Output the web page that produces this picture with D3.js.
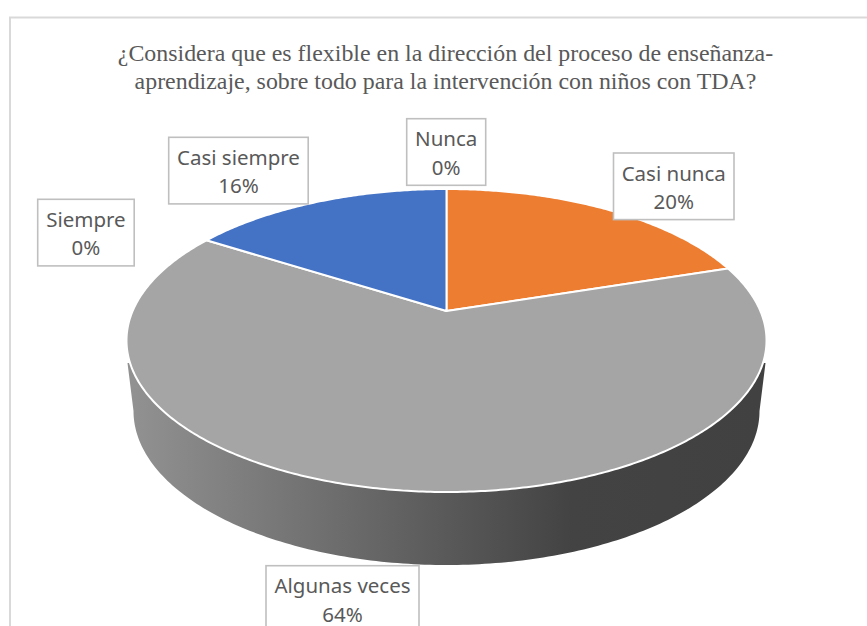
<!DOCTYPE html>
<html><head><meta charset="utf-8">
<script src="https://cdn.jsdelivr.net/npm/d3@7"></script>
<style>html,body{margin:0;padding:0;background:#fff;overflow:hidden}svg{display:block}</style>
</head><body>
<svg id="c" width="867" height="626"></svg>
<script>
const categories = ["Nunca","Casi nunca","Algunas veces","Casi siempre","Siempre"];
const values = [0,20,64,16,0];
const colors = ["#5B9BD5","#ED7D31","#A5A5A5","#4472C4","#FFC000"];
const titleLines = ["¿Considera que es flexible en la dirección del proceso de enseñanza-","aprendizaje, sobre todo para la intervención con niños con TDA?"];

// Layout, separate from the data
const W=867,H=626;
const top_={cx:446.5,cy:340.5,rx:320,ry:151.5,apexY:311};
const bottom_={cx:446.5,cy:411,rx:313,ry:154};
const wallStartY=363, wallStartDX=319;
const labelBoxes={
 "Nunca":[406.7,118.7,79,66.6],
 "Casi nunca":[613.5,153,120.5,66.6],
 "Algunas veces":[266,565.7,153,66.6],
 "Casi siempre":[168.7,137.3,139.5,66.6],
 "Siempre":[37.7,199.3,96.5,66.6]
};
const svg=d3.select("#c");
const fmt=d3.format(".0%");
const total=d3.sum(values);

// frame
svg.append("path").attr("d",`M10,${H}V17.5H${W}`).attr("fill","none").attr("stroke","#d9d9d9").attr("stroke-width",2);

// title
svg.append("g").selectAll("text").data(titleLines).join("text")
 .attr("x",445.5).attr("y",(d,i)=>61+i*27.5)
 .attr("text-anchor","middle")
 .attr("font-family","'Liberation Serif',serif").attr("font-size",23.9).attr("fill","#595959")
 .text(d=>d);

// perspective: circle (angle) -> tilted disc with off-centre apex
const dn=top_.cy+top_.ry-top_.apexY, up=top_.apexY-(top_.cy-top_.ry);
const k=(dn/up-1)/(dn/up+1);
const b=dn*(1-k);
const a=top_.rx*Math.sqrt(1-Math.pow((top_.apexY-top_.cy)/top_.ry,2));
const project=t=>{const u=Math.sin(t),v=-Math.cos(t),w=1-k*v;return [top_.cx+a*u/w,top_.apexY+b*v/w];};

// wall
const grad=svg.append("defs").append("linearGradient").attr("id","wall")
 .attr("gradientUnits","userSpaceOnUse").attr("x1",bottom_.cx-bottom_.rx).attr("x2",bottom_.cx+bottom_.rx).attr("y1",0).attr("y2",0);
grad.append("stop").attr("offset",0).attr("stop-color","#919191");
grad.append("stop").attr("offset",0.7).attr("stop-color","#434343");
grad.append("stop").attr("offset",1).attr("stop-color","#414141");
const line=d3.line();
const lower=d3.range(0,Math.PI+0.001,Math.PI/180).map(t=>[bottom_.cx-bottom_.rx*Math.cos(t),bottom_.cy+bottom_.ry*Math.sin(t)]);
const wallPts=[[top_.cx-wallStartDX,wallStartY],...lower,[top_.cx+wallStartDX,wallStartY]];
svg.append("path").attr("d",line(wallPts)+"Z").attr("fill","url(#wall)");

// slices
const pie=d3.pie().sort(null).value(d=>d);
const arcs=pie(values);
svg.append("g").selectAll("path").data(arcs.filter(d=>d.value>0)).join("path")
 .attr("d",d=>{
   const n=Math.ceil((d.endAngle-d.startAngle)/0.01);
   const pts=d3.range(n+1).map(i=>project(d.startAngle+(d.endAngle-d.startAngle)*i/n));
   return line([[top_.cx,top_.apexY],...pts])+"Z";
 })
 .attr("fill",d=>colors[d.index]).attr("stroke","#fff").attr("stroke-width",2).attr("stroke-linejoin","round");

// labels
const lg=svg.append("g").selectAll("g").data(categories).join("g");
lg.append("rect")
 .attr("x",d=>labelBoxes[d][0]).attr("y",d=>labelBoxes[d][1])
 .attr("width",d=>labelBoxes[d][2]).attr("height",d=>labelBoxes[d][3])
 .attr("fill","#fff").attr("stroke","#bfbfbf").attr("stroke-width",1.6);
const lab=lg.append("text").attr("text-anchor","middle")
 .attr("font-family","'Noto Sans',sans-serif").attr("font-size",20.5).attr("fill","#595959");
lab.append("tspan").attr("x",d=>labelBoxes[d][0]+labelBoxes[d][2]/2).attr("y",d=>labelBoxes[d][1]+27.5).text(d=>d);
lab.append("tspan").attr("x",d=>labelBoxes[d][0]+labelBoxes[d][2]/2).attr("y",d=>labelBoxes[d][1]+56).text((d,i)=>fmt(values[i]/total));
</script>
</body></html>
